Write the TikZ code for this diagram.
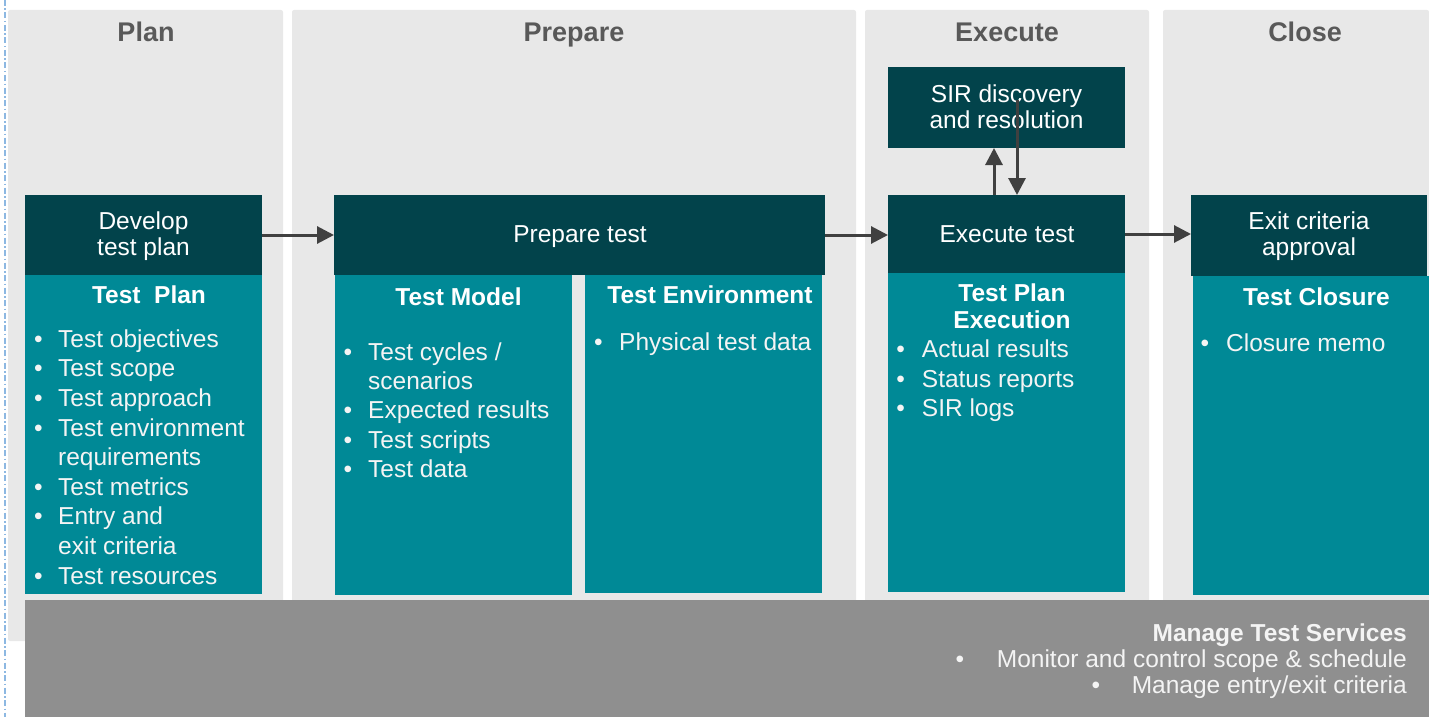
\documentclass[tikz,border=0pt]{standalone}
\usepackage{fontspec}
\setmainfont{Liberation Sans}
\usetikzlibrary{arrows.meta}
\definecolor{darkteal}{HTML}{02434B}
\definecolor{midteal}{HTML}{008996}
\definecolor{panelgray}{HTML}{E8E8E8}
\definecolor{bargray}{HTML}{8F8F8F}
\definecolor{headgray}{HTML}{595959}
\definecolor{arrowgray}{HTML}{404040}
\definecolor{guideblue}{HTML}{8DB8E2}
\definecolor{softwhite}{HTML}{F4F4F4}
\newcommand\bodyfs{\fontsize{24.5}{29.5}\selectfont}
\newcommand\boxfs{\fontsize{24.5}{26}\selectfont}
\newcommand\headfs{\fontsize{27}{30}\selectfont\bfseries}
\begin{document}
\begin{tikzpicture}[x=1pt,y=-1pt,
  panelbox/.style={fill=panelgray, draw=none, rounded corners=2pt, inner sep=0pt, outer sep=0pt},
  darkbox/.style={fill=darkteal, draw=none, inner sep=0pt, outer sep=0pt, text=white, font=\boxfs, align=center},
  tealbox/.style={fill=midteal, draw=none, inner sep=0pt, outer sep=0pt},
  barbox/.style={fill=bargray, draw=none, inner sep=0pt, outer sep=0pt},
  boxtitle/.style={text=white, font=\boxfs\bfseries, inner sep=0pt, anchor=base},
  steptext/.style={text=white, font=\boxfs, inner sep=0pt, anchor=base},
  itemtext/.style={text=softwhite, font=\bodyfs, inner sep=0pt, anchor=base west},
  itemdot/.style={text=softwhite, font=\bodyfs, inner sep=0pt, anchor=base},
  heading/.style={text=headgray, font=\headfs, inner sep=0pt, anchor=base},
  bartext/.style={text=softwhite, font=\bodyfs, inner sep=0pt, anchor=base east},
  flow/.style={draw=arrowgray, line width=3pt, -{Triangle[length=17pt,width=17pt]}}
]
\useasboundingbox (0,0) rectangle (1429,717);

% guide line at the left edge
\draw[guideblue, line width=1.2pt, dash pattern=on 6pt off 2.5pt on 1.5pt off 2.5pt] (5,0) -- (5,717);

% phase panels
\node[panelbox, minimum width=275pt, minimum height=631pt] (pplan) at (145.5,325.5) {};
\node[panelbox, minimum width=564pt, minimum height=631pt] (pprep) at (574,325.5) {};
\node[panelbox, minimum width=284pt, minimum height=631pt] (pexec) at (1007,325.5) {};
\node[panelbox, minimum width=266pt, minimum height=631pt] (pclose) at (1296,325.5) {};

\node[heading] (hplan) at (146,42) {Plan};
\node[heading] (hprep) at (574,42) {Prepare};
\node[heading] (hexec) at (1007,42) {Execute};
\node[heading] (hclose) at (1305,42) {Close};

% teal content boxes
\node[tealbox, minimum width=237pt, minimum height=319pt] (t1) at (143.5,434.5) {};
\node[tealbox, minimum width=237pt, minimum height=320pt] (t2) at (453.5,435) {};
\node[tealbox, minimum width=237pt, minimum height=318pt] (t3) at (703.5,434) {};
\node[tealbox, minimum width=237pt, minimum height=319pt] (t4) at (1006.5,432.5) {};
\node[tealbox, minimum width=236pt, minimum height=319pt] (t5) at (1311,435.5) {};

% dark step boxes
\node[darkbox, minimum width=237pt, minimum height=80pt] (dev) at (143.5,235) {};
\node[darkbox, minimum width=491pt, minimum height=80pt] (prep) at (579.5,235) {};
\node[darkbox, minimum width=237pt, minimum height=78pt] (exe) at (1006.5,234) {};
\node[darkbox, minimum width=237pt, minimum height=81pt] (sir) at (1006.5,107.5) {};
\node[darkbox, minimum width=236pt, minimum height=81pt] (exit) at (1309,235.5) {};

\node[steptext] (devt1) at (143.5,229.5) {Develop};
\node[steptext] (devt2) at (143.5,255.5) {test plan};
\node[steptext] (prept) at (580,242) {Prepare test};
\node[steptext] (exet) at (1007,242) {Execute test};
\node[steptext] (sirt1) at (1006.5,102.5) {SIR discovery};
\node[steptext] (sirt2) at (1006.5,128.5) {and resolution};
\node[steptext] (exitt1) at (1309,229.5) {Exit criteria};
\node[steptext] (exitt2) at (1309,255.5) {approval};

% box titles
\node[boxtitle] (tt1) at (149,303.3) {Test\ \ Plan};
\node[boxtitle] (tt2) at (458.5,305) {Test Model};
\node[boxtitle] (tt3) at (710,303.3) {Test Environment};
\node[boxtitle] (tt4a) at (1012,301.7) {Test Plan};
\node[boxtitle] (tt4b) at (1012,328.3) {Execution};
\node[boxtitle] (tt5) at (1316.5,305) {Test Closure};

% Plan list
\foreach \txt/\hasdot [count=\i] in {Test objectives/1, Test scope/1, Test approach/1, Test environment/1, requirements/0, Test metrics/1, Entry and/1, exit criteria/0, Test resources/1}{
  \node[itemtext] (pl\i) at (58,{347.3+(\i-1)*29.6}) {\txt};
  \ifnum\hasdot=1 \node[itemdot] (pld\i) at (38.3,{347.3+(\i-1)*29.6}) {\textbullet};\fi
}
% Model list
\foreach \txt/\hasdot [count=\i] in {{Test cycles /}/1, scenarios/0, Expected results/1, Test scripts/1, Test data/1}{
  \node[itemtext] (ml\i) at (368,{360+(\i-1)*29.4}) {\txt};
  \ifnum\hasdot=1 \node[itemdot] (mld\i) at (348,{360+(\i-1)*29.4}) {\textbullet};\fi
}
% Environment list
\node[itemtext] (el1) at (619,350) {Physical test data};
\node[itemdot] (eld1) at (598.3,350) {\textbullet};
% Execution list
\foreach \txt [count=\i] in {Actual results, Status reports, SIR logs}{
  \node[itemtext] (xl\i) at (921.7,{357.3+(\i-1)*29.7}) {\txt};
  \node[itemdot] (xld\i) at (900.7,{357.3+(\i-1)*29.7}) {\textbullet};
}
% Closure list
\node[itemtext] (cl1) at (1226,351.7) {Closure memo};
\node[itemdot] (cld1) at (1205,351.7) {\textbullet};

% bottom bar
\node[barbox, minimum width=1404pt, minimum height=117pt] (bar) at (727,658.5) {};
\node[bartext, font=\bodyfs\bfseries] (b1) at (1407,641.7) {Manage Test Services};
\node[bartext] (b2) at (1407,667.3) {Monitor and control scope \& schedule};
\node[itemdot] (b2d) at (960,667.3) {\textbullet};
\node[bartext] (b3) at (1407,693.3) {Manage entry/exit criteria};
\node[itemdot] (b3d) at (1096,693.3) {\textbullet};

% connectors
\draw[flow] (dev.east) -- (prep.west);
\draw[flow] (prep.east) -- (prep.east -| exe.west);
\draw[flow] (exe.east) -- (exe.east -| exit.west);
\draw[flow] ([xshift=-12.5pt]exe.north) -- ([xshift=-12.5pt]exe.north |- sir.south);
\coordinate (sirin) at (1017,100);
\draw[flow] (sirin) -- (sirin |- exe.north);
\end{tikzpicture}
\end{document}
